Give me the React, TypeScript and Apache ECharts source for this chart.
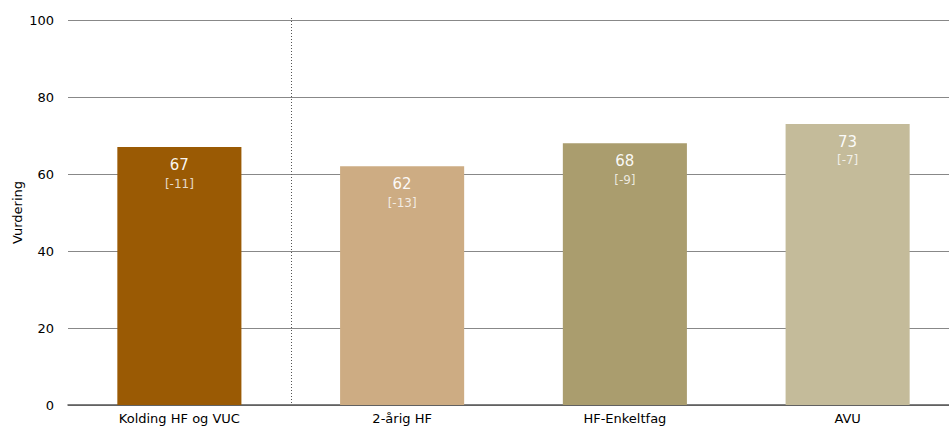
import React, { useEffect, useRef } from "react";
import * as echarts from "echarts";

const categories = ["Kolding HF og VUC", "2-årig HF", "HF-Enkeltfag", "AVU"];
const values = [67, 62, 68, 73];
const diffs = ["[-11]", "[-13]", "[-9]", "[-7]"];
const barColors = ["#9A5A04", "#CDAC83", "#AA9D6E", "#C4BB9A"];
const yTicks = { min: 0, max: 100, interval: 20 };

export default function App() {
  const ref = useRef<HTMLDivElement>(null);
  useEffect(() => {
    if (!ref.current) return;
    const chart = echarts.init(ref.current, undefined, { renderer: "svg" });
    const font = "DejaVu Sans";
    chart.setOption({
      animation: false,
      textStyle: { fontFamily: font },
      grid: {
        left: 68,
        width: 891,
        top: 20,
        bottom: 24,
        containLabel: false,
        outerBoundsMode: "none",
      },
      xAxis: {
        type: "category",
        data: categories,
        axisLine: { show: true, lineStyle: { color: "#555", width: 1.5 } },
        axisTick: { show: false },
        axisLabel: { color: "#000", fontSize: 13, fontFamily: font, margin: 7 },
      },
      yAxis: {
        type: "value",
        min: yTicks.min,
        max: yTicks.max,
        interval: yTicks.interval,
        name: "Vurdering",
        nameLocation: "middle",
        nameGap: 44,
        nameMoveOverlap: false,
        nameTextStyle: { color: "#000", fontSize: 13, fontFamily: font },
        axisLine: { show: false },
        axisTick: { show: false },
        axisLabel: { color: "#000", fontSize: 13, fontFamily: font, margin: 14 },
        splitLine: { lineStyle: { color: "#888", width: 1 } },
      },
      series: [
        {
          type: "bar",
          barWidth: "55.7%",
          data: values.map((v, i) => ({
            value: v,
            itemStyle: { color: barColors[i] },
            label: {
              formatter: () => `{v|${v}}\n{d|${diffs[i]}}`,
            },
          })),
          label: {
            show: true,
            position: "insideTop",
            distance: 8,
            rich: {
              v: { color: "rgba(255,255,255,0.95)", fontSize: 15, fontFamily: font, lineHeight: 20 },
              d: { color: "rgba(255,255,255,0.78)", fontSize: 12, fontFamily: font, lineHeight: 17 },
            },
          },
        },
      ],
    });
    const x0 = chart.convertToPixel({ xAxisIndex: 0 }, categories[0]) as number;
    const x1 = chart.convertToPixel({ xAxisIndex: 0 }, categories[1]) as number;
    const xs = Math.round((x0 + x1) / 2) + 0.5;
    const yTop = chart.convertToPixel({ yAxisIndex: 0 }, yTicks.max) as number;
    const yBot = chart.convertToPixel({ yAxisIndex: 0 }, yTicks.min) as number;
    chart.setOption({
      graphic: [
        {
          type: "line",
          shape: { x1: xs, y1: yTop - 2, x2: xs, y2: yBot },
          style: { stroke: "#555", lineWidth: 1, lineDash: [1, 2] },
          z: 10,
        },
      ],
    });
    return () => chart.dispose();
  }, []);
  return <div ref={ref} style={{ width: 949, height: 429, position: "absolute", left: 0, top: 0 }} />;
}
